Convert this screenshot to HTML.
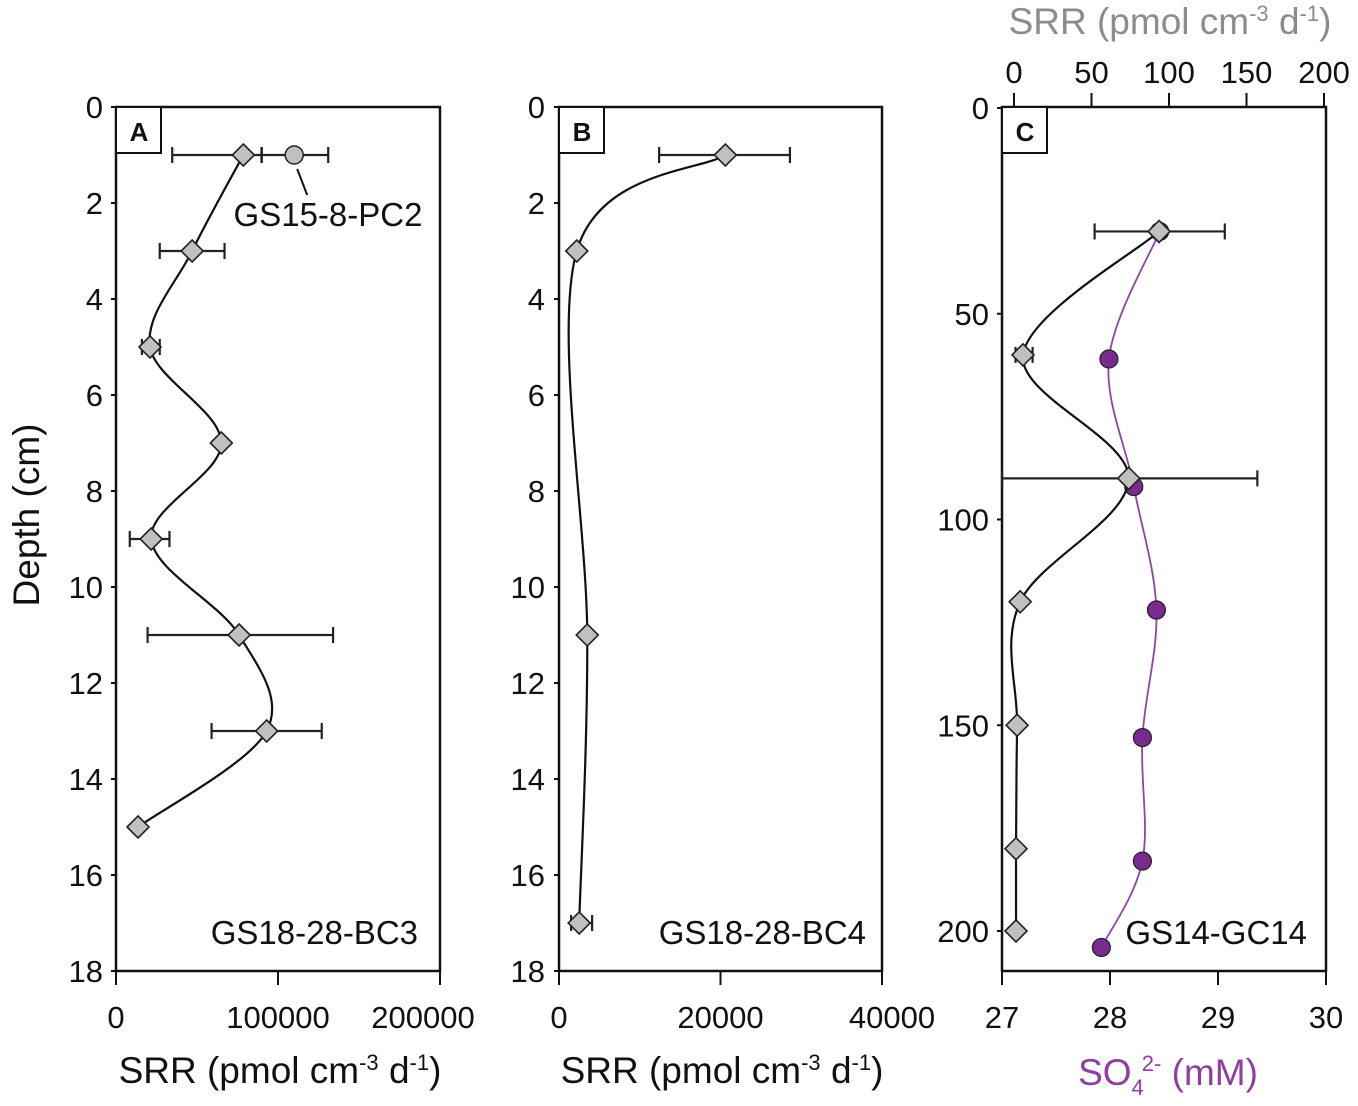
<!DOCTYPE html>
<html><head><meta charset="utf-8"><style>
body{margin:0;background:#fff}
svg{display:block;font-family:"Liberation Sans",Arial,sans-serif}
</style></head><body>
<svg id="c" width="1358" height="1106" viewBox="0 0 1358 1106" xmlns="http://www.w3.org/2000/svg"></svg>
<script>
// Panel A data (GS18-28-BC3)
const depthA=[1,3,5,7,9,11,13,15];
const srrA=[78600,47000,21000,65000,21700,76000,93000,13600];
const errLoA=[34700,27000,16000,null,8500,19500,59000,null];
const errHiA=[89800,67000,27000,null,33000,134000,127000,null];
const pc2Depth=[1];
const pc2Srr=[110000];
const pc2Lo=[90000];
const pc2Hi=[131000];
// Panel B data (GS18-28-BC4)
const depthB=[1,3,11,17];
const srrB=[20600,2200,3500,2500];
const errLoB=[12400,null,null,1500];
const errHiB=[28600,null,null,4100];
// Panel C data (GS14-GC14)
const depthCsrr=[30,60,90,120,150,180,200];
const srrC=[93.6,5.8,74,4,2,1.3,1.3];
const errLoC=[52,1,-7.7,null,null,null,null];
const errHiC=[136,12,157,null,null,null,null];
const depthCso4=[30,61,92,122,153,183,204];
const so4C=[28.46,27.99,28.22,28.43,28.30,28.30,27.92];
// tick labels
const ticksY_AB=[0,2,4,6,8,10,12,14,16,18];
const ticksX_A=[0,100000,200000];
const ticksX_B=[0,20000,40000];
const ticksY_C=[0,50,100,150,200];
const ticksXtop_C=[0,50,100,150,200];
const ticksXbot_C=[27,28,29,30];

const TF=31, LF=33, AF=37;
const svg=document.getElementById('c');
const NS='http://www.w3.org/2000/svg';
function el(t,a,p){const e=document.createElementNS(NS,t);for(const k in a)e.setAttribute(k,a[k]);(p||svg).appendChild(e);return e;}
function txt(s,x,y,size,anchor,fill,p){const e=el('text',{x:x,y:y,'font-size':size,'text-anchor':anchor||'middle',fill:fill||'#111'},p);e.textContent=s;return e;}
function lin(d0,d1,r0,r1){return v=>r0+(v-d0)/(d1-d0)*(r1-r0);}
function spline(pts){let d='M'+pts[0][0]+','+pts[0][1];for(let i=0;i<pts.length-1;i++){const p0=pts[Math.max(i-1,0)],p1=pts[i],p2=pts[i+1],p3=pts[Math.min(i+2,pts.length-1)];const c1=[p1[0]+(p2[0]-p0[0])/6,p1[1]+(p2[1]-p0[1])/6],c2=[p2[0]-(p3[0]-p1[0])/6,p2[1]-(p3[1]-p1[1])/6];d+=' C'+c1.join(',')+' '+c2.join(',')+' '+p2.join(',');}return d;}
function diamond(x,y,g){const s=11;const e=el('polygon',{points:`${x},${y-s} ${x+s},${y} ${x},${y+s} ${x-s},${y}`,fill:'#c0c0c0',stroke:'#222','stroke-width':1.6},g);

}
function errbar(x1,x2,y,g){el('line',{x1:x1,x2:x2,y1:y,y2:y,stroke:'#222','stroke-width':2.2},g);el('line',{x1:x1,x2:x1,y1:y-8,y2:y+8,stroke:'#222','stroke-width':2.2},g);el('line',{x1:x2,x2:x2,y1:y-8,y2:y+8,stroke:'#222','stroke-width':2.2},g);}
function frame(x0,x1,y0,y1,label,name){const g=el('g',{});
el('rect',{x:x0,y:y0,width:x1-x0,height:y1-y0,fill:'none',stroke:'#111','stroke-width':2.5},g);
el('rect',{x:x0,y:y0,width:45,height:46,fill:'#fff',stroke:'#111','stroke-width':2},g);
const t=txt(label,x0+23,y0+34,26,'middle','#111',g);t.setAttribute('font-weight','bold');return g;}
function srrTitle(cx,y,fill,g){const t=el('text',{x:cx,y:y,'font-size':AF,'text-anchor':'middle',fill:fill},g);
t.appendChild(document.createTextNode('SRR (pmol cm'));
const s1=el('tspan',{dy:-13,'font-size':22},t);s1.textContent='-3';
const s2=el('tspan',{dy:13},t);s2.textContent=' d';
const s3=el('tspan',{dy:-13,'font-size':22},t);s3.textContent='-1';
const s4=el('tspan',{dy:13},t);s4.textContent=')';return t;}
const Y0=107,Y1=971;

// Panel A
(function(){const x=lin(0,200000,116,440),y=lin(0,18,Y0,Y1);const g=frame(116,440,Y0,Y1,'A','panel-a');
ticksY_AB.forEach(v=>{el('line',{x1:111,x2:116,y1:y(v),y2:y(v),stroke:'#111','stroke-width':2},g);txt(v,103,y(v)+11,TF,'end','#111',g);});
ticksX_A.forEach(v=>{el('line',{x1:x(v),x2:x(v),y1:Y1,y2:Y1+14,stroke:'#111','stroke-width':2},g);txt(v,x(v)+(v==200000?-17:0),1028,TF,'middle','#111',g);});
const p=el('path',{d:spline(depthA.map((d,i)=>[x(srrA[i]),y(d)])),fill:'none',stroke:'#111','stroke-width':2.2},g);


depthA.forEach((d,i)=>{if(errLoA[i]!=null)errbar(x(errLoA[i]),x(errHiA[i]),y(d),g);});
pc2Depth.forEach((d,i)=>{errbar(x(pc2Lo[i]),x(pc2Hi[i]),y(d),g);const c=el('circle',{cx:x(pc2Srr[i]),cy:y(d),r:9,fill:'#c0c0c0',stroke:'#222','stroke-width':1.5},g);});
el('line',{x1:x(pc2Srr[0])+3,y1:y(1)+14,x2:x(pc2Srr[0])+13,y2:y(1)+40,stroke:'#111','stroke-width':2},g);
txt('GS15-8-PC2',328,226,LF,'middle','#111',g);
depthA.forEach((d,i)=>diamond(x(srrA[i]),y(d),g));
txt('GS18-28-BC3',418,944,LF,'end','#111',g);
const t=srrTitle(280,1083,'#111',g);
const dt=el('text',{x:0,y:0,'font-size':AF,'text-anchor':'middle',fill:'#111',transform:'translate(39,515) rotate(-90)'},g);dt.textContent='Depth (cm)';

})();

// Panel B
(function(){const x=lin(0,40000,559,882),y=lin(0,18,Y0,Y1);const g=frame(559,882,Y0,Y1,'B','panel-b');
ticksY_AB.forEach(v=>{el('line',{x1:554,x2:559,y1:y(v),y2:y(v),stroke:'#111','stroke-width':2},g);txt(v,545,y(v)+11,TF,'end','#111',g);});
ticksX_B.forEach(v=>{el('line',{x1:x(v),x2:x(v),y1:Y1,y2:Y1+14,stroke:'#111','stroke-width':2},g);txt(v,x(v)+(v==40000?10:0),1028,TF,'middle','#111',g);});
const p=el('path',{d:spline(depthB.map((d,i)=>[x(srrB[i]),y(d)])),fill:'none',stroke:'#111','stroke-width':2.2},g);


depthB.forEach((d,i)=>{if(errLoB[i]!=null)errbar(x(errLoB[i]),x(errHiB[i]),y(d),g);});
depthB.forEach((d,i)=>diamond(x(srrB[i]),y(d),g));
txt('GS18-28-BC4',866,944,LF,'end','#111',g);
const t=srrTitle(722,1083,'#111',g);
})();

// Panel C
(function(){const xs=lin(0,200,1014,1324),xb=lin(27,30,1002,1326),y=lin(0,210,Y0+1,Y0+1+210*4.115);const g=frame(1002,1326,Y0,Y1,'C','panel-c');
ticksY_C.forEach(v=>{el('line',{x1:997,x2:1002,y1:y(v),y2:y(v),stroke:'#111','stroke-width':2},g);txt(v,989,y(v)+11,TF,'end','#111',g);});
ticksXbot_C.forEach(v=>{el('line',{x1:xb(v),x2:xb(v),y1:Y1,y2:Y1+14,stroke:'#111','stroke-width':2},g);txt(v,xb(v),1028,TF,'middle','#111',g);});
ticksXtop_C.forEach(v=>{el('line',{x1:xs(v),x2:xs(v),y1:Y0-14,y2:Y0,stroke:'#111','stroke-width':2},g);txt(v,xs(v),83,TF,'middle','#111',g);});
const ps=el('path',{d:spline(depthCso4.map((d,i)=>[xb(so4C[i]),y(d)])),fill:'none',stroke:'#8e44a8','stroke-width':1.8},g);


depthCso4.forEach((d,i)=>{const c=el('circle',{cx:xb(so4C[i]),cy:y(d),r:9,fill:'#7a2a8e',stroke:'#222','stroke-width':1.2},g);});
const p=el('path',{d:spline(depthCsrr.map((d,i)=>[xs(srrC[i]),y(d)])),fill:'none',stroke:'#111','stroke-width':2.2},g);


depthCsrr.forEach((d,i)=>{if(errLoC[i]!=null)errbar(xs(errLoC[i]),xs(errHiC[i]),y(d),g);});
depthCsrr.forEach((d,i)=>diamond(xs(srrC[i]),y(d),g));
txt('GS14-GC14',1307,944,LF,'end','#111',g);
const t=srrTitle(1170,34,'#8c8c8c',g);
const b=el('text',{x:1168,y:1085,'font-size':AF,'text-anchor':'middle',fill:'#8e3fa0'},g);

b.appendChild(document.createTextNode('SO'));
const a1=el('tspan',{dy:10,'font-size':22},b);a1.textContent='4';
const a2=el('tspan',{dy:-24,dx:-2,'font-size':22},b);a2.textContent='2-';
const a3=el('tspan',{dy:14},b);a3.textContent=' (mM)';
})();
</script>
</body></html>
